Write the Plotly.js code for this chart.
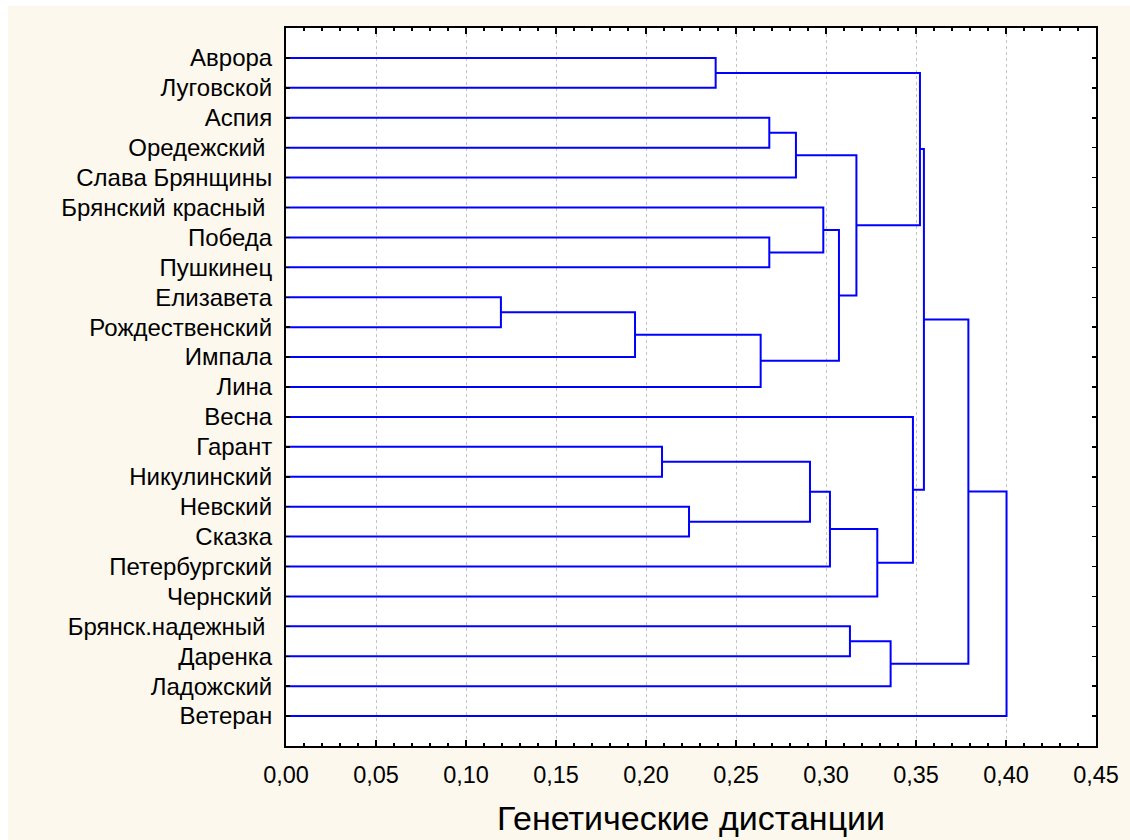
<!DOCTYPE html>
<html>
<head>
<meta charset="utf-8">
<script src="https://cdn.plot.ly/plotly-3.0.1.min.js"></script>
<style>
  html, body { margin: 0; padding: 0; background: #ffffff; }
  #chart { position: absolute; left: 8px; top: 6px; width: 1122px; height: 834px; }
</style>
</head>
<body>
<div id="chart"></div>
<script>
// Leaves, top to bottom
const leaves = [
  "Аврора", "Луговской", "Аспия", "Оредежский\u00a0", "Слава Брянщины",
  "Брянский красный\u00a0", "Победа", "Пушкинец", "Елизавета", "Рождественский",
  "Импала", "Лина", "Весна", "Гарант", "Никулинский", "Невский", "Сказка",
  "Петербургский", "Чернский", "Брянск.надежный\u00a0", "Даренка", "Ладожский", "Ветеран"
];

// Merges: children are leaf indices (numbers) or previous merges ("m" + index)
const mergeLeft = [
  8, "m0", 13, 15, 0, "m1", 2, 6, "m6", "m2", 5, "m9", "m10", 19, "m8", "m11",
  "m13", 12, "m4", "m18", "m19", "m20"
];
const mergeRight = [
  9, 10, 14, 16, 1, 11, 3, 7, 4, "m3", "m7", 17, "m5", 20, "m12", 18,
  21, "m15", "m14", "m17", "m16", 22
];
const mergeHeight = [
  0.1194, 0.1939, 0.2089, 0.2239, 0.2387, 0.2637, 0.2685, 0.2685, 0.2833, 0.2911,
  0.2985, 0.3022, 0.3072, 0.3133, 0.3169, 0.3285, 0.3359, 0.3483, 0.3522, 0.3544,
  0.3791, 0.4003
];

// Axis ticks
const xTickVals = [0, 0.05, 0.10, 0.15, 0.20, 0.25, 0.30, 0.35, 0.40, 0.45];
const xTickText = ["0,00", "0,05", "0,10", "0,15", "0,20", "0,25", "0,30", "0,35", "0,40", "0,45"];
const xTitle = "Генетические дистанции";

// Build dendrogram segments
const leafPos = leaves.map((_, i) => i + 1);
const nodeY = [], nodeH = [];
function getNode(ref) {
  if (typeof ref === "number") return { y: leafPos[ref], h: 0 };
  const k = parseInt(ref.slice(1), 10);
  return { y: nodeY[k], h: nodeH[k] };
}
const xs = [], ys = [];
for (let i = 0; i < mergeHeight.length; i++) {
  const a = getNode(mergeLeft[i]);
  const b = getNode(mergeRight[i]);
  const h = mergeHeight[i];
  xs.push(a.h, h, h, b.h, null);
  ys.push(a.y, a.y, b.y, b.y, null);
  nodeY.push((a.y + b.y) / 2);
  nodeH.push(h);
}

const trace = {
  x: xs, y: ys, type: "scatter", mode: "lines",
  line: { color: "#0000ff", width: 2 },
  hoverinfo: "skip", showlegend: false
};

const fontFam = "Arial, 'Liberation Sans', sans-serif";
const layout = {
  width: 1122, height: 834,
  paper_bgcolor: "#fcf8ee",
  plot_bgcolor: "#ffffff",
  margin: { l: 278, r: 34, t: 22, b: 94 },
  showlegend: false,
  font: { family: fontFam, color: "#000000" },
  xaxis: {
    range: [0, 0.45],
    tickmode: "array", tickvals: xTickVals, ticktext: xTickText,
    ticks: "inside", ticklen: 6, tickwidth: 1.5, tickcolor: "#000",
    minor: { dtick: 0.01, tick0: 0, ticks: "inside", ticklen: 3, tickwidth: 1.5, tickcolor: "#000", showgrid: false },
    showline: true, linewidth: 2, linecolor: "#000", mirror: "allticks",
    showgrid: true, gridcolor: "#c4c4c4", gridwidth: 1, griddash: "dot",
    zeroline: false,
    tickfont: { size: 23.5, family: fontFam, color: "#000" },
    ticklabelstandoff: 7,
    title: { text: xTitle, font: { size: 34, family: fontFam, color: "#000" }, standoff: 19 }
  },
  yaxis: {
    range: [leaves.length + 1, 0],
    tickmode: "array", tickvals: leafPos, ticktext: leaves,
    ticks: "inside", ticklen: 4, tickwidth: 1.5, tickcolor: "#000",
    showline: true, linewidth: 2, linecolor: "#000", mirror: "allticks",
    showgrid: false, zeroline: false,
    tickfont: { size: 24, family: fontFam, color: "#000" },
    ticklabelstandoff: 7
  }
};

Plotly.newPlot("chart", [trace], layout, { displayModeBar: false, staticPlot: true });
</script>
</body>
</html>
